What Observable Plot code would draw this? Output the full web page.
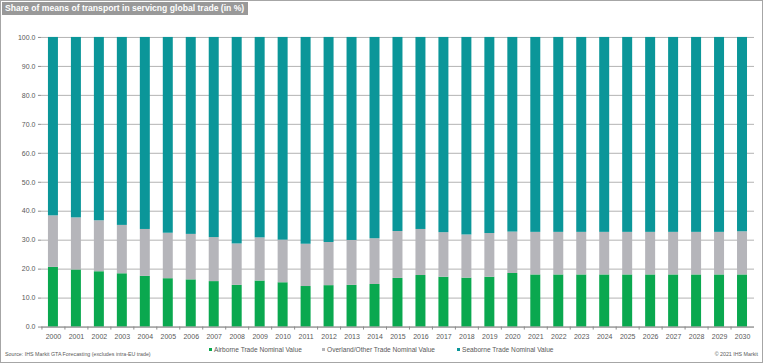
<!DOCTYPE html>
<html><head><meta charset="utf-8">
<script src="https://cdn.jsdelivr.net/npm/d3@7"></script>
<script src="https://cdn.jsdelivr.net/npm/@observablehq/plot@0.6"></script>
<style>
html,body{margin:0;padding:0;background:#fff;}
#wrap{position:relative;width:761px;height:361px;border:1px solid #a6a6a6;overflow:hidden;font-family:"Liberation Sans",Arial,sans-serif;}
#title{position:absolute;left:1px;top:1px;height:13px;line-height:13px;padding:0 4px 0 3px;background:#999999;color:#fff;font-weight:bold;font-size:8.6px;}
#chart{position:absolute;left:-1px;top:-1px;}
.foot{position:absolute;font-size:5.3px;color:#595959;top:350px;}
.leg{position:absolute;top:345px;font-size:6.6px;color:#595959;white-space:nowrap;}
.leg i{display:inline-block;width:3px;height:3px;margin-right:2px;vertical-align:1px;}
</style></head>
<body>
<div id="wrap">
<div id="title">Share of means of transport in servicng global trade (in %)</div>
<div id="chart"></div>
<div class="foot" style="left:4px">Source: IHS Markit GTA Forecasting (excludes intra-EU trade)</div>
<div class="foot" style="right:4px">© 2021 IHS Markit</div>
<div id="legend"></div>
</div>
<script>
const years = d3.range(2000, 2031);
const airborne = [20.6,19.7,19.1,18.4,17.5,16.7,16.3,15.7,14.4,15.9,15.3,14.0,14.3,14.4,14.7,16.8,17.8,17.2,16.9,17.2,18.5,18.0,18.0,18.0,18.0,18.0,18.0,18.0,18.0,18.0,18.0];
const overlandTop = [38.4,37.7,36.7,35.1,33.7,32.4,32.0,30.9,28.7,30.8,30.0,28.6,29.2,29.9,30.5,33.0,33.7,32.6,31.8,32.3,32.8,32.7,32.7,32.7,32.7,32.7,32.7,32.7,32.7,32.7,32.9];
const series = ["Airborne Trade Nominal Value","Overland/Other Trade Nominal Value","Seaborne Trade Nominal Value"];
const colors = ["#0aa84f","#b5b5ba","#0b9699"];
const yTicks = d3.range(0, 101, 10);

const data = [];
years.forEach((yr,i)=>{
  const a = airborne[i], o = +(overlandTop[i]-airborne[i]).toFixed(1), s = +(100-overlandTop[i]).toFixed(1);
  data.push({year:yr, series:series[0], value:a});
  data.push({year:yr, series:series[1], value:o});
  data.push({year:yr, series:series[2], value:s});
});

const plot = Plot.plot({
  width: 763, height: 363,
  marginTop: 37, marginBottom: 36, marginLeft: 41, marginRight: 8,
  style: {fontFamily: "Liberation Sans, Arial, sans-serif", fontSize: "7px", color: "#595959", background: "transparent"},
  x: {domain: years, paddingInner: 0.56, paddingOuter: 0.3, label: null},
  y: {domain: [0,100], ticks: yTicks, label: null},
  color: {domain: series, range: colors},
  marks: [
    Plot.gridY(yTicks, {stroke: "#b3b3b3", strokeOpacity: 1, strokeWidth: 1}),
    Plot.barY(data, {x: "year", y: "value", fill: "series", order: series}),
    Plot.ruleY([0], {stroke: "#8c8c8c"}),
    Plot.ruleX([0], {stroke: "#8c8c8c"}),
    Plot.axisY(yTicks, {tickFormat: d => d.toFixed(1), tickSize: 3, tickPadding: 3, stroke: "#8c8c8c", fill: "#595959"}),
    Plot.axisX(years, {tickSize: 0, tickPadding: 7, tickFormat: d => String(d), fill: "#595959"}),
    Plot.ruleX(years, {x: d => d, dx: -11.5, y1: 0, y2: 0, insetBottom: -3, stroke: "#8c8c8c"})
  ]
});
document.getElementById("chart").appendChild(plot);

const legPos = [208, 321, 456];
const leg = document.getElementById("legend");
series.forEach((s,i)=>{
  const d = document.createElement("div");
  d.className = "leg";
  d.style.left = legPos[i] + "px";
  d.innerHTML = `<i style="background:${colors[i]}"></i>${s}`;
  leg.appendChild(d);
});
</script>
</body></html>
